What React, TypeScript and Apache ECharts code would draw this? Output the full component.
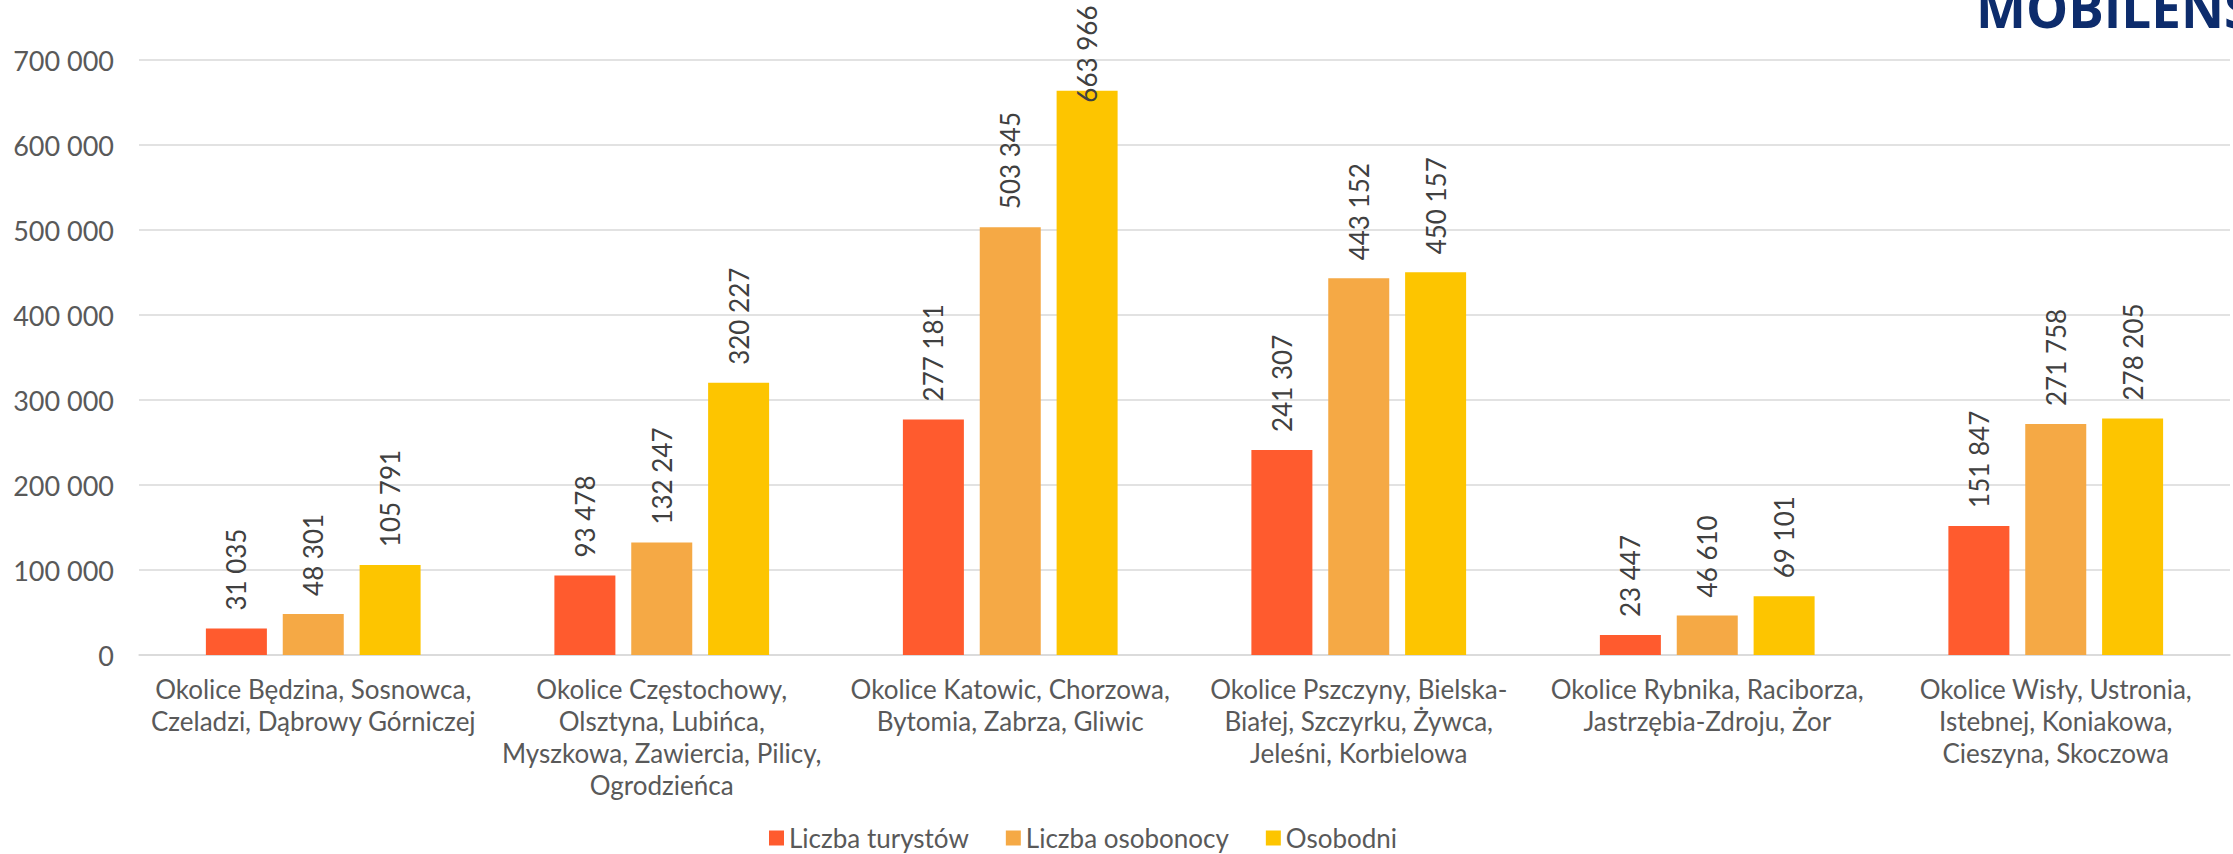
import React, { useEffect, useRef } from "react";
import * as echarts from "echarts";

const categories = [
  "Okolice Będzina, Sosnowca,\nCzeladzi, Dąbrowy Górniczej",
  "Okolice Częstochowy,\nOlsztyna, Lubińca,\nMyszkowa, Zawiercia, Pilicy,\nOgrodzieńca",
  "Okolice Katowic, Chorzowa,\nBytomia, Zabrza, Gliwic",
  "Okolice Pszczyny, Bielska-\nBiałej, Szczyrku, Żywca,\nJeleśni, Korbielowa",
  "Okolice Rybnika, Raciborza,\nJastrzębia-Zdroju, Żor",
  "Okolice Wisły, Ustronia,\nIstebnej, Koniakowa,\nCieszyna, Skoczowa",
];

const seriesNames = ["Liczba turystów", "Liczba osobonocy", "Osobodni"];
const turysci = [31035, 93478, 277181, 241307, 23447, 151847];
const osobonoce = [48301, 132247, 503345, 443152, 46610, 271758];
const osobodni = [105791, 320227, 663966, 450157, 69101, 278205];
const yTicks = [0, 100000, 200000, 300000, 400000, 500000, 600000, 700000];

const colors = ["#FF5B2E", "#F5A945", "#FDC500"];
const FONT = "Lato, 'Noto Sans', sans-serif";

const fmt = (v: number) => String(v).replace(/\B(?=(\d{3})+(?!\d))/g, " ");

export default function App() {
  const ref = useRef<HTMLDivElement>(null);
  useEffect(() => {
    if (!ref.current) return;
    const chart = echarts.init(ref.current, null, { renderer: "svg" });
    const yMax = yTicks[yTicks.length - 1];
    const mkData = (arr: number[]) =>
      arr.map((v) =>
        v > yMax * 0.9
          ? { value: v, label: { position: ["50%", 12] } }
          : v
      );
    const mkSeries = (name: string, arr: number[], i: number) => ({
      name,
      type: "bar",
      data: mkData(arr),
      barWidth: 61,
      barGap: "26%",
      itemStyle: { color: colors[i] },
      label: {
        show: true,
        position: "top",
        rotate: 90,
        align: "left",
        verticalAlign: "middle",
        distance: 18,
        fontFamily: FONT,
        fontSize: 26,
        color: "#404040",
        formatter: (p: any) => fmt(p.value),
      },
    });
    chart.setOption({
      animation: false,
      backgroundColor: "#ffffff",
      textStyle: { fontFamily: FONT },
      grid: { left: 139, right: 3, top: 60, bottom: 199, containLabel: false },
      legend: {
        left: 764,
        top: 820,
        icon: "rect",
        itemWidth: 15,
        itemHeight: 15,
        itemGap: 37,
        textStyle: { fontFamily: FONT, fontSize: 26, color: "#595959" },
        data: seriesNames,
      },
      xAxis: {
        type: "category",
        data: categories,
        axisTick: { show: false },
        axisLine: { lineStyle: { color: "#d9d9d9", width: 1.5 } },
        axisLabel: {
          interval: 0,
          margin: 18,
          fontFamily: FONT,
          fontSize: 26,
          lineHeight: 32,
          color: "#595959",
          align: "center",
        },
      },
      yAxis: {
        type: "value",
        min: 0,
        max: yMax,
        interval: 100000,
        axisLine: { show: false },
        axisTick: { show: false },
        splitLine: { lineStyle: { color: "#d9d9d9", width: 1.5 } },
        axisLabel: {
          margin: 25,
          fontFamily: FONT,
          fontSize: 27,
          color: "#595959",
          formatter: (v: number) => fmt(v),
        },
      },
      graphic: [
        {
          type: "text",
          left: 1976,
          top: -19,
          style: {
            text: "MOBILENS",
            fontFamily: "'Open Sans', Lato, sans-serif",
            fontWeight: 700,
            fontSize: 53,
            fill: "#0D2C6C",
          },
        },
      ],
      series: [
        mkSeries(seriesNames[0], turysci, 0),
        mkSeries(seriesNames[1], osobonoce, 1),
        mkSeries(seriesNames[2], osobodni, 2),
      ],
    });
    return () => chart.dispose();
  }, []);
  return (
    <div
      ref={ref}
      style={{ position: "fixed", left: 0, top: 0, width: 2233, height: 854 }}
    />
  );
}
